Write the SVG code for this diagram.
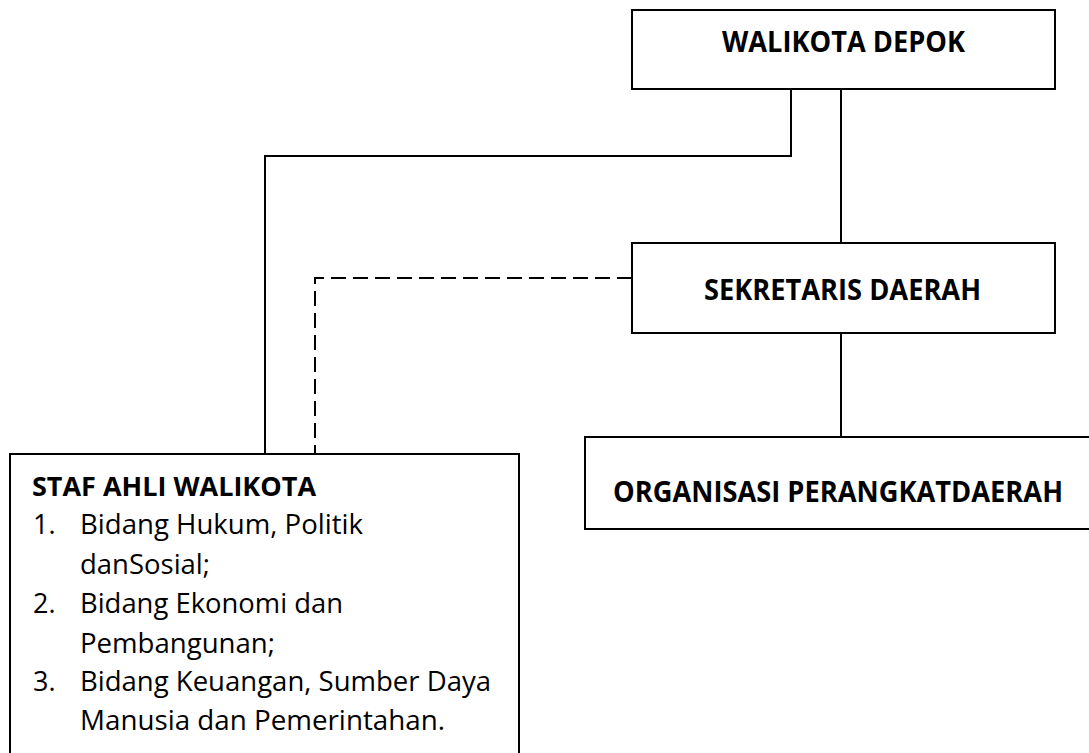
<svg xmlns="http://www.w3.org/2000/svg" width="1089" height="753" viewBox="0 0 1089 753">
<style>
.box{fill:#fff;stroke:#000;stroke-width:2}
.ln{fill:none;stroke:#000;stroke-width:2}
.dash{fill:none;stroke:#000;stroke-width:2;stroke-dasharray:15 7}
.h{font-family:"Open Sans","Liberation Sans",sans-serif;font-weight:bold;font-size:28px;fill:#000}
.t{font-family:"Open Sans","Liberation Sans",sans-serif;font-size:27px;fill:#000}
</style>
<rect width="1089" height="753" fill="#fff"/>
<g id="connectors">
<path class="ln" d="M791 89 V156 H265 V454"/>
<path class="ln" d="M841 89 V243"/>
<path class="ln" d="M841 333 V437"/>
<path class="dash" d="M632 278 H315 V454"/>
</g>
<g id="walikota">
<rect class="box" x="632" y="10" width="423" height="79"/>
<text class="h" x="722" y="52" textLength="243" lengthAdjust="spacingAndGlyphs">WALIKOTA DEPOK</text>
</g>
<g id="sekretaris">
<rect class="box" x="632" y="243" width="423" height="90"/>
<text class="h" x="704" y="300" textLength="277" lengthAdjust="spacingAndGlyphs">SEKRETARIS DAERAH</text>
</g>
<g id="organisasi">
<rect class="box" x="585" y="437" width="530" height="92"/>
<text class="h" x="613" y="502" textLength="450" lengthAdjust="spacingAndGlyphs">ORGANISASI PERANGKATDAERAH</text>
</g>
<g id="staf">
<rect class="box" x="10" y="454" width="509" height="330"/>
<text class="h" x="32" y="496" style="font-size:26px" textLength="284" lengthAdjust="spacingAndGlyphs">STAF AHLI WALIKOTA</text>
<text class="t" x="33" y="534">1.</text>
<text class="t" x="80" y="534" textLength="283" lengthAdjust="spacingAndGlyphs">Bidang Hukum, Politik</text>
<text class="t" x="80" y="574" textLength="130" lengthAdjust="spacingAndGlyphs">danSosial;</text>
<text class="t" x="33" y="613">2.</text>
<text class="t" x="80" y="613" textLength="263" lengthAdjust="spacingAndGlyphs">Bidang Ekonomi dan</text>
<text class="t" x="80" y="653" textLength="195" lengthAdjust="spacingAndGlyphs">Pembangunan;</text>
<text class="t" x="33" y="691">3.</text>
<text class="t" x="80" y="691" textLength="411" lengthAdjust="spacingAndGlyphs">Bidang Keuangan, Sumber Daya</text>
<text class="t" x="80" y="730" textLength="365" lengthAdjust="spacingAndGlyphs">Manusia dan Pemerintahan.</text>
</g>
</svg>
